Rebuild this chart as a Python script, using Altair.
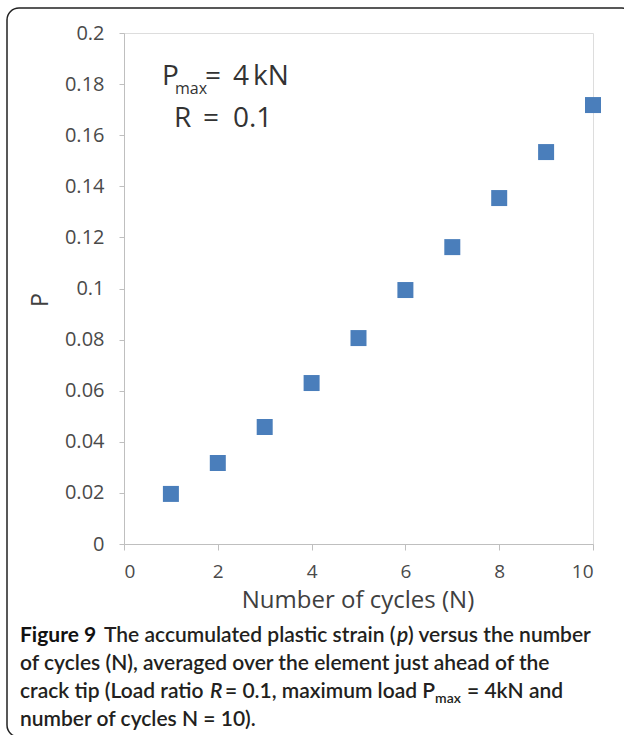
import altair as alt
import pandas as pd

cycles = [1, 2, 3, 4, 5, 6, 7, 8, 9, 10]
strain = [0.0196, 0.0317, 0.0458, 0.0630, 0.0806, 0.0994, 0.1162, 0.1354, 0.1534, 0.1718]
y_ticks = [0, 0.02, 0.04, 0.06, 0.08, 0.1, 0.12, 0.14, 0.16, 0.18, 0.2]
x_ticks = [0, 2, 4, 6, 8, 10]

PL, PT = 124, 33
W, H = 469, 511
AX_FONT = "Open Sans"

df = pd.DataFrame({"N": cycles, "p": strain})
one = pd.DataFrame({"a": [0]})

points = alt.Chart(df).mark_square(size=256, color="#4a7ebb", opacity=1).encode(
    x=alt.X("N:Q", scale=alt.Scale(domain=[0, 10], nice=False),
            axis=alt.Axis(values=x_ticks, title=None, grid=False, tickSize=6,
                          labelPadding=12, domainColor="#bfbfbf", tickColor="#bfbfbf",
                          labelFontSize=19, labelColor="#4a4a4a", labelFont=AX_FONT)),
    y=alt.Y("p:Q", scale=alt.Scale(domain=[0, 0.2], nice=False),
            axis=alt.Axis(values=y_ticks, format="~f", title=None, grid=False, tickSize=5,
                          labelPadding=15, domainColor="#bfbfbf", tickColor="#bfbfbf",
                          labelFontSize=20, labelColor="#4a4a4a", labelFont=AX_FONT)),
)


def txt(s, x, y, size=21, weight="normal", style="normal", color="#333333",
        font="Lato", align="left", angle=0, baseline="alphabetic"):
    kw = dict(text=s, fontSize=size, fontWeight=weight, fontStyle=style, color=color,
              font=font, align=align, baseline=baseline)
    if angle:
        kw["angle"] = angle
    return alt.Chart(one).mark_text(**kw).encode(
        x=alt.value(x - PL), y=alt.value(y - PT))


border = alt.Chart(one).mark_rect(
    fill="white", fillOpacity=0, stroke="#222222", strokeWidth=1.5, cornerRadius=12
).encode(x=alt.value(7 - PL), x2=alt.value(634 - PL),
         y=alt.value(8 - PT), y2=alt.value(737 - PT))

cap_c = "#231f20"
ann_c = "#333333"
texts = [
    # annotation
    txt("P", 162, 85, size=28, color=ann_c, font=AX_FONT),
    txt("max", 175, 94, size=16, color=ann_c, font=AX_FONT),
    txt("=", 205, 85, size=28, color=ann_c, font=AX_FONT),
    txt("4", 233, 85, size=28, color=ann_c, font=AX_FONT),
    txt("kN", 253, 85, size=28, color=ann_c, font=AX_FONT),
    txt("R", 174, 127, size=28, color=ann_c, font=AX_FONT),
    txt("=", 203, 127, size=28, color=ann_c, font=AX_FONT),
    txt("0.1", 233, 127, size=28, color=ann_c, font=AX_FONT),
    # axis titles
    txt("P", 41, 300, size=23, color="#404040", align="center", angle=270,
        baseline="middle", font=AX_FONT),
    txt("Number of cycles (N)", 358, 608, size=24, color="#404040", align="center",
        font=AX_FONT),
    # caption
    txt("Figure 9", 20, 642, weight="bold", color="#111111"),
    txt("The accumulated plastic strain (", 104, 642, weight=600, color=cap_c),
    txt("p", 397, 642, weight=600, style="italic", color=cap_c),
    txt(") versus the number", 408, 642, weight=600, color=cap_c),
    txt("of cycles (N), averaged over the element just ahead of the", 20, 670, weight=600,
        color=cap_c),
    txt("crack tip (Load ratio", 20, 698, weight=600, color=cap_c),
    txt("R", 210, 698, weight=600, style="italic", color=cap_c),
    txt("= 0.1, maximum load P", 225, 698, weight=600, color=cap_c),
    txt("max", 435, 703, size=14, weight=600, color=cap_c),
    txt("= 4kN and", 467, 698, weight=600, color=cap_c),
    txt("number of cycles N = 10).", 20, 726, weight=600, color=cap_c),
]

chart = alt.layer(border, points, *texts).properties(
    width=W, height=H,
    autosize=alt.AutoSizeParams(type="none"),
    padding={"left": PL, "top": PT, "right": 624 - PL - W, "bottom": 735 - PT - H},
).configure_view(stroke=None).configure(background="white")

chart.save("out.html", embed_options={"renderer": "svg", "actions": False})
